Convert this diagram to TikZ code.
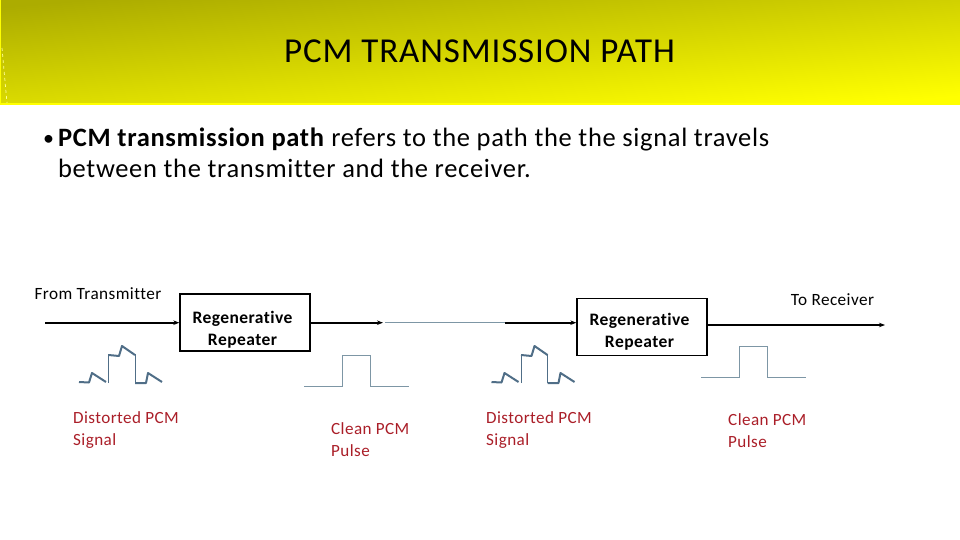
\documentclass[tikz,border=0pt]{standalone}
\usepackage{fontspec}
\setmainfont[LetterSpace=2.5,Ligatures=NoCommon]{Carlito}
\usetikzlibrary{arrows.meta,positioning,calc}
\definecolor{headdark}{RGB}{172,172,0}
\definecolor{headlight}{RGB}{255,255,0}
\definecolor{wavegray}{RGB}{80,110,135}
\definecolor{pulsegray}{RGB}{125,150,165}
\definecolor{labelred}{RGB}{170,30,40}
\tikzset{
  repeater/.style={draw=black, line width=1.3pt, minimum width=130pt, minimum height=57pt, inner sep=0pt},
  repeatertext/.style={align=center, inner sep=0pt, font=\fontsize{17.5}{22}\selectfont\bfseries},
  plainlabel/.style={inner sep=0pt, font=\fontsize{17.2}{18}\selectfont},
  redlabel/.style={inner sep=0pt, align=left, text=labelred, font=\fontsize{17.1}{22}\selectfont},
  flow/.style={-{Stealth[length=6pt]}, line width=1.6pt, draw=black},
  thinlink/.style={line width=0.7pt, draw=pulsegray},
  wavethick/.style={line width=2pt, draw=wavegray, line join=round},
  wavethin/.style={line width=0.7pt, draw=wavegray},
  pulseline/.style={line width=0.8pt, draw=pulsegray},
}
\begin{document}
\begin{tikzpicture}[x=1pt, y=-1pt]
        \useasboundingbox (0,0) rectangle (960,540);
        % header band
        \fill[headlight] (0,0) rectangle (960,105);
        \shade[shading=axis, bottom color=headlight, top color=headdark, shading angle=5] (1,0) rectangle (960,103);
        \draw[headlight!40!white, line width=0.7pt, dashed] (2,48) -- (7,103);
        \node[inner sep=0pt, font=\fontsize{35}{36}\selectfont] (title) at (479.5,51) {PCM TRANSMISSION PATH};
        % bullet text
        \node[inner sep=0pt, anchor=base west, font=\fontsize{22}{30}\selectfont] (bullet) at (43,146) {•};
        \node[inner sep=0pt, anchor=base west, font=\fontsize{26.5}{30}\selectfont] (line1) at (58,147) {\textbf{PCM transmission path} refers to the path the the signal travels};
        \node[inner sep=0pt, anchor=base west, font=\fontsize{26.5}{30}\selectfont] (line2) at (58,178) {between the transmitter and the receiver.};
        % boxes
        \node[repeater, label={[repeatertext, xshift=-2.5pt, yshift=-7pt]center:Regenerative\\Repeater}] (rep1) at (245,322.5) {};
        \node[repeater, label={[repeatertext, xshift=-2.5pt, yshift=-5pt]center:Regenerative\\Repeater}] (rep2) at (642,327) {};
        \coordinate (start) at (45,322.7);
        \coordinate (gapleft) at (383,322.7);
        \coordinate (gapmid) at (385,322.7);
        \coordinate (gapright) at (505,322.7);
        \coordinate (finish) at (885,325);
        \draw[flow] (start) -- (start -| rep1.west);
        \draw[flow] (gapleft -| rep1.east) -- (gapleft);
        \draw[thinlink] (gapmid) -- (gapright);
        \draw[flow] (gapright) -- (gapright -| rep2.west);
        \draw[flow] (finish -| rep2.east) -- (finish);
        % labels
        \node[plainlabel] (from) at (98,294) {From Transmitter};
        \node[plainlabel] (to) at (832.5,300) {To Receiver};
        \node[redlabel, anchor=north west] (dist1) at (73,411) {Distorted PCM\\Signal};
        \node[redlabel, anchor=north west] (clean1) at (331,422) {Clean PCM\\Pulse};
        \node[redlabel, anchor=north west] (dist2) at (486,411) {Distorted PCM\\Signal};
        \node[redlabel, anchor=north west] (clean2) at (728,413) {Clean PCM\\Pulse};
        % waveforms
        \foreach \dx in {0,412.5} {
          \begin{scope}[xshift=\dx pt]
            \draw[wavethick] (79,382) -- (89,382.5) -- (92,373) -- (106,382);
            \draw[wavethin] (108.5,383) -- (108.5,354);
            \draw[wavethick] (108.5,355) -- (119,356) -- (122,346) -- (135,355);
            \draw[wavethin] (135,354) -- (135,383);
            \draw[wavethick] (135,383) -- (146,383) -- (148,373) -- (162,382);
          \end{scope}
        }
        \foreach \dx/\dy in {0/0,397/-9} {
          \draw[pulseline, shift={(\dx pt,-\dy pt)}] (304,386.5) -- (342.5,386.5) -- (342.5,355.5) -- (370.5,355.5) -- (370.5,386.5) -- (409,386.5);
        }
      \end{tikzpicture}
\end{document}
